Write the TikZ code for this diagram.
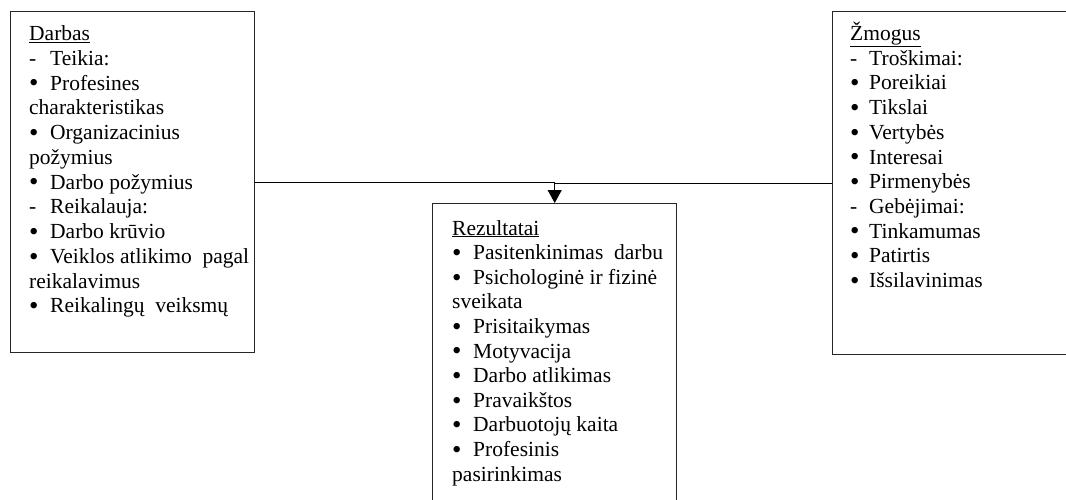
\documentclass[tikz,border=0pt]{standalone}
\usepackage{fontspec}
\setmainfont{Liberation Serif}
\usetikzlibrary{arrows.meta}
\newcommand\bdot{\raisebox{-1.8pt}{\scalebox{1.25}{•}}}
\newcommand\bl[1]{\makebox[21pt][l]{\bdot}#1}
\newcommand\dl[1]{\makebox[21pt][l]{-}#1}
\newcommand\blr[1]{\makebox[19pt][l]{\bdot}#1}
\newcommand\dlr[1]{\makebox[19pt][l]{-}#1}
\tikzset{
  box/.style={draw=black!85, line width=1.4pt, rectangle, anchor=north west, inner sep=0pt},
  txt/.style={anchor=base west, inner sep=0pt, font=\fontsize{21.5}{24.75}\selectfont},
  conn/.style={draw=black, line width=1.2pt},
}
\begin{document}
\begin{tikzpicture}[x=1pt,y=-1pt]
\useasboundingbox (0,0) rectangle (1066,499);
\node[box, minimum width=244pt, minimum height=341pt] (L) at (10,11) {};
\node[box, minimum width=244pt, minimum height=317pt] (M) at (432,203) {};
\node[box, minimum width=244pt, minimum height=343pt] (R) at (832,11) {};
% left texts
\foreach \t [count=\i from 0] in {\underline{Darbas},\dl{Teikia:},\bl{Profesines},charakteristikas,\bl{Organizacinius},požymius,\bl{Darbo požymius},\dl{Reikalauja:},\bl{Darbo krūvio},\bl{Veiklos atlikimo\ \ pagal},reikalavimus,\bl{Reikalingų\ \ veiksmų}}
  \node[txt] (lt\i) at (29,{40.5+24.75*\i}) {\t};
% middle texts
\foreach \t [count=\i from 0] in {\underline{Rezultatai},\bl{Pasitenkinimas\ \ darbu},\bl{Psichologinė ir fizinė},sveikata,\bl{Prisitaikymas},\bl{Motyvacija},\bl{Darbo atlikimas},\bl{Pravaikštos},\bl{Darbuotojų kaita},\bl{Profesinis},pasirinkimas}
  \node[txt] (mt\i) at (452,{235+24.6*\i}) {\t};
% right texts
\foreach \t [count=\i from 0] in {\underline{Žmogus},\dlr{Troškimai:},\blr{Poreikiai},\blr{Tikslai},\blr{Vertybės},\blr{Interesai},\blr{Pirmenybės},\dlr{Gebėjimai:},\blr{Tinkamumas},\blr{Patirtis},\blr{Išsilavinimas}}
  \node[txt] (rt\i) at (850,{40.5+24.7*\i}) {\t};
% connectors
\draw[conn, -{Triangle[width=14pt,length=13pt]}] (L.east) -| (M.north);
\draw[conn] (R.west) -- (R.west -| M.north);
\end{tikzpicture}
\end{document}
